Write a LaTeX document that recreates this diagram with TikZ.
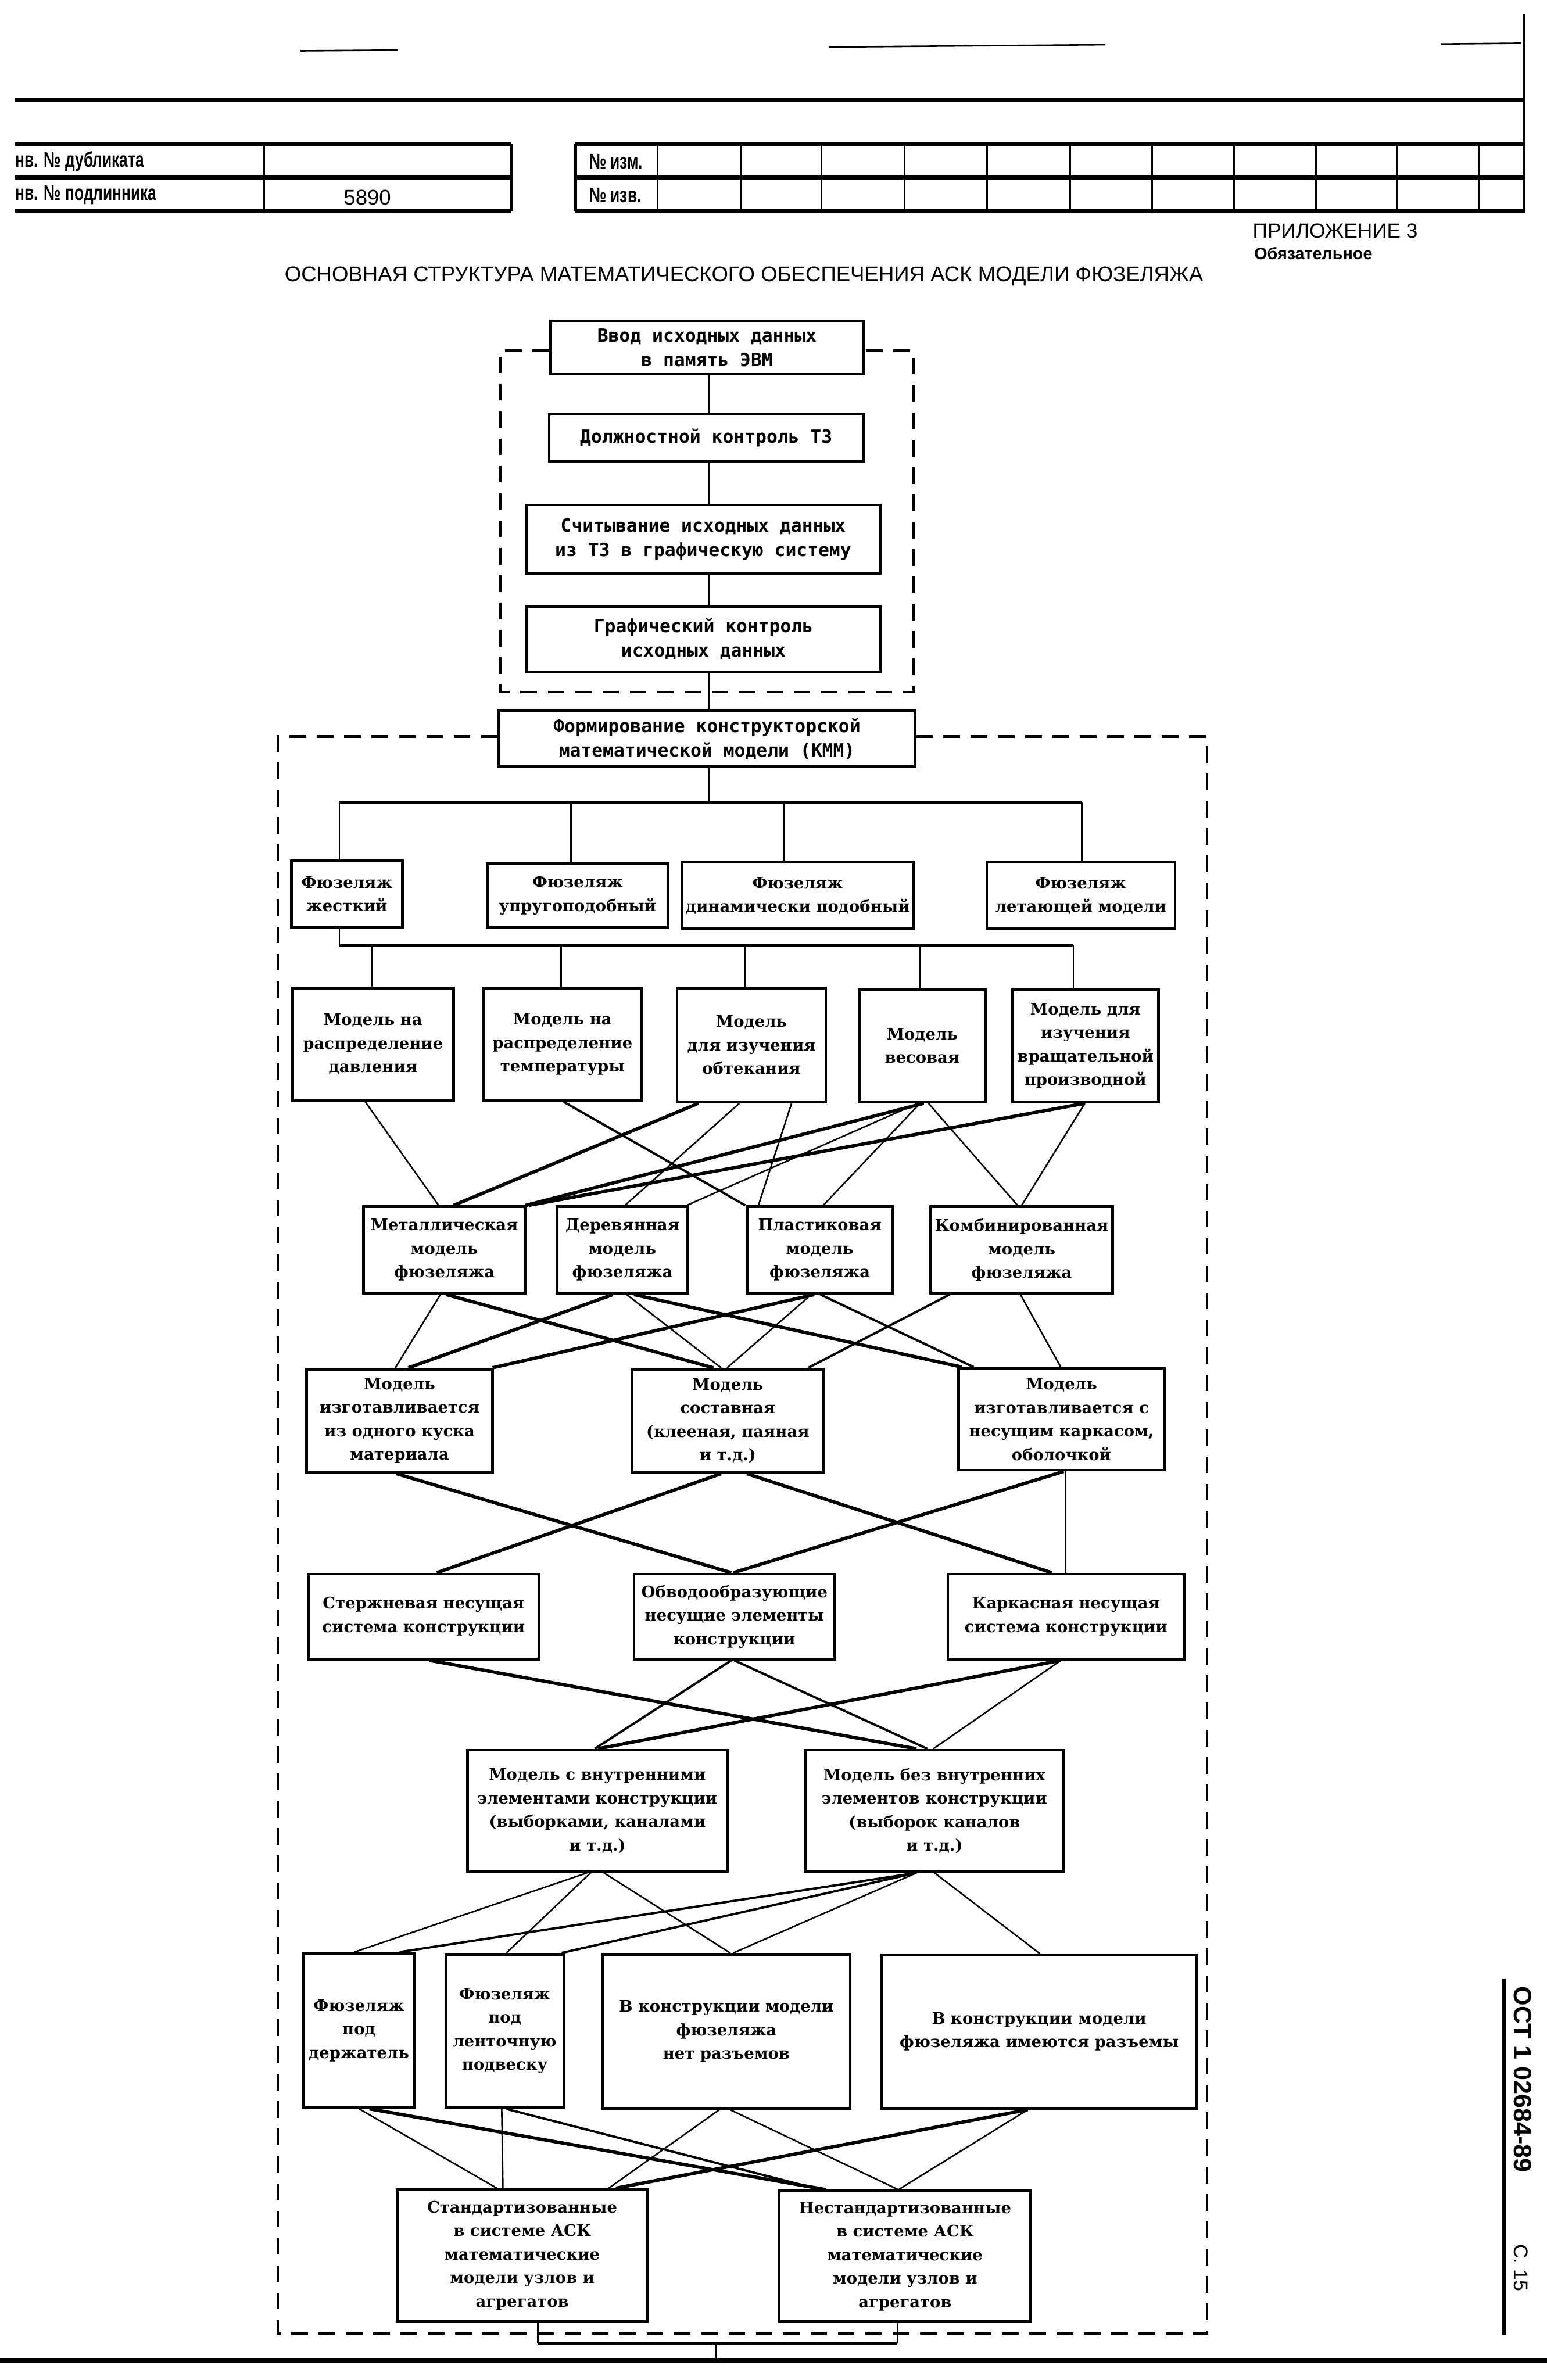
\documentclass[tikz,border=0pt]{standalone}
\usepackage{fontspec}
\setmainfont{Liberation Serif}
\newfontfamily\hdrfont[FakeStretch=0.72]{Liberation Sans}
\newfontfamily\titlefont{Liberation Sans}
\newfontfamily\upfont{DejaVu Sans Mono}
\newfontfamily\lowfont{DejaVu Serif}
\begin{document}
\begin{tikzpicture}[x=1pt,y=-1pt,
  box/.style={draw, line width=1.8pt, inner sep=0pt, align=center,
    font=\lowfont\bfseries\fontsize{10.5}{15.5}\selectfont},
  ubox/.style={box, font=\upfont\bfseries\fontsize{12}{16}\selectfont},
  thn/.style={line width=1.0pt},
  mid/.style={line width=1.5pt},
  thk/.style={line width=2.2pt},
  dsh/.style={line width=1.6pt, dash pattern=on 11pt off 7pt},
  hdr/.style={font=\hdrfont\bfseries\fontsize{14}{15}\selectfont, inner sep=0pt},
  tline/.style={line width=2.5pt},
  vline/.style={line width=1.2pt}]
\useasboundingbox (0,0) rectangle (1019,1568);

% ---------- header ----------
\draw[thn] (198,33.5) -- (262,33);
\draw[thn] (546,31) -- (728,29.5);
\draw[thn] (949,29) -- (1002,28.5);
\draw[tline] (10,66) -- (1004,66);
\draw[vline] (1004,9) -- (1004,140);
\foreach \yy in {95,117,139}{
  \draw[tline] (10,\yy) -- (337,\yy);
  \draw[tline] (379,\yy) -- (1004,\yy);
}
\draw[vline] (174,95) -- (174,139);
\draw[line width=1.6pt] (337,95) -- (337,139);
\draw[line width=2pt] (379,95) -- (379,139);
\foreach \xx in {433,488,541,596,650,705,759,813,867,920,974}{
  \draw[vline] (\xx,95) -- (\xx,139);
}
\node[hdr, anchor=west] (hd1) at (10,106.5) {нв. № дубликата};
\node[hdr, anchor=west] (hd2) at (10,128.5) {нв. № подлинника};
\node[font=\titlefont\fontsize{14}{16}\selectfont, inner sep=0pt] (hd3) at (242,130) {5890};
\node[hdr, anchor=west] (hd4) at (388,106.5) {№ изм.};
\node[hdr, anchor=west] (hd5) at (388,128.5) {№ изв.};

\node[font=\titlefont\fontsize{13.5}{16}\selectfont, inner sep=0pt, anchor=west] (app) at (825,152) {ПРИЛОЖЕНИЕ 3};
\node[font=\titlefont\bfseries\fontsize{11}{13}\selectfont, inner sep=0pt, anchor=west] (obl) at (826,167) {Обязательное};
\node[font=\titlefont\fontsize{14}{16}\selectfont, inner sep=0pt] (title) at (490,182)
  {ОСНОВНАЯ СТРУКТУРА МАТЕМАТИЧЕСКОГО ОБЕСПЕЧЕНИЯ АСК МОДЕЛИ ФЮЗЕЛЯЖА};

% ---------- upper block ----------
\node[ubox, minimum width=206pt, minimum height=35pt] (B1) at (465.7,229) {Ввод исходных данных\\в память ЭВМ};
\node[ubox, minimum width=207pt, minimum height=31pt] (B2) at (465.2,288.5) {Должностной контроль ТЗ};
\node[ubox, minimum width=233pt, minimum height=45pt] (B3) at (463.2,355.2) {Считывание исходных данных\\из ТЗ в графическую систему};
\node[ubox, minimum width=233pt, minimum height=43pt] (B4) at (463.4,421) {Графический контроль\\исходных данных};
\node[ubox, minimum width=274pt, minimum height=37pt] (B5) at (465.7,486.6) {Формирование конструкторской\\математической модели (КММ)};

\draw[dsh] (B1.west |- 0,231) -- (329.7,231) -- (329.7,455.8) -- (601.7,455.8) -- (601.7,231) -- (B1.east |- 0,231);
\draw[dsh] (B5.west |- 0,485.2) -- (183,485.2) -- (183,1537.5) -- (795,1537.5) -- (795,485.2) -- (B5.east |- 0,485.2);

\draw[thn] (466.8,0 |- B1.south) -- (466.8,0 |- B2.north);
\draw[thn] (466.8,0 |- B2.south) -- (466.8,0 |- B3.north);
\draw[thn] (466.8,0 |- B3.south) -- (466.8,0 |- B4.north);
\draw[thn] (466.8,0 |- B4.south) -- (466.8,0 |- B5.north);

% ---------- fuselage types ----------
\node[box, minimum width=73pt, minimum height=44pt] (F1) at (228.5,589) {Фюзеляж\\жесткий};
\node[box, minimum width=119pt, minimum height=42pt] (F2) at (380.5,590) {Фюзеляж\\упругоподобный};
\node[box, minimum width=153pt, minimum height=44pt] (F3) at (525.5,590) {Фюзеляж\\динамически подобный};
\node[box, minimum width=124pt, minimum height=44pt] (F4) at (712,590) {Фюзеляж\\летающей модели};

\coordinate (bus1) at (466.8,528.6);
\coordinate (bus1L) at (223.5,528.6);
\coordinate (bus1R) at (712.6,528.6);
\draw[thn] (466.8,0 |- B5.south) -- (bus1);
\draw[mid] (bus1L) -- (bus1R);
\draw[thn] (bus1L) -- (223.5,0 |- F1.north);
\draw[thn] (376,528.6) -- (376,0 |- F2.north);
\draw[thn] (516.5,528.6) -- (516.5,0 |- F3.north);
\draw[thn] (bus1R) -- (712.6,0 |- F4.north);

% ---------- model purposes ----------
\node[box, minimum width=106pt, minimum height=74pt] (M1) at (245.7,688) {Модель на\\распределение\\давления};
\node[box, minimum width=104pt, minimum height=74pt] (M2) at (370.5,688) {Модель на\\распределение\\температуры};
\node[box, minimum width=98pt, minimum height=75pt] (M3) at (495,688.5) {Модель\\для изучения\\обтекания};
\node[box, minimum width=83pt, minimum height=74pt] (M4) at (607.5,689) {Модель\\весовая};
\node[box, minimum width=96pt, minimum height=74pt] (M5) at (715,689) {Модель для\\изучения\\вращательной\\производной};

\coordinate (bus2L) at (223.5,622.7);
\coordinate (bus2R) at (707,622.7);
\draw[thn] (223.5,0 |- F1.south) -- (bus2L);
\draw[mid] (bus2L) -- (bus2R);
\draw[thn] (245,622.7) -- (245,0 |- M1.north);
\draw[thn] (369.5,622.7) -- (369.5,0 |- M2.north);
\draw[thn] (490.5,622.7) -- (490.5,0 |- M3.north);
\draw[thn] (606,622.7) -- (606,0 |- M4.north);
\draw[thn] (bus2R) -- (707,0 |- M5.north);

% ---------- materials ----------
\node[box, minimum width=106.6pt, minimum height=57pt] (Met) at (292.7,823.5) {Металлическая\\модель\\фюзеляжа};
\node[box, minimum width=86pt, minimum height=57pt] (Der) at (410,823.5) {Деревянная\\модель\\фюзеляжа};
\node[box, minimum width=96pt, minimum height=57pt] (Pla) at (540,823.5) {Пластиковая\\модель\\фюзеляжа};
\node[box, minimum width=120pt, minimum height=57pt] (Kom) at (673,823.5) {Комбинированная\\модель\\фюзеляжа};

\draw[thn] (240.6,0 |- M1.south) -- (288.9,0 |- Met.north);
\draw[mid] (371.3,0 |- M2.south) -- (490.9,0 |- Pla.north);
\draw[thk] (460,0 |- M3.south) -- (298.8,0 |- Met.north);
\draw[thn] (487,0 |- M3.south) -- (411.7,0 |- Der.north);
\draw[thn] (521.4,0 |- M3.south) -- (499.6,0 |- Pla.north);
\draw[thk] (608.5,0 |- M4.south) -- (346.3,0 |- Met.north);
\draw[thn] (604.5,0 |- M4.south) -- (452.4,0 |- Der.north);
\draw[thn] (606,0 |- M4.south) -- (542.3,0 |- Pla.north);
\draw[thn] (611.6,0 |- M4.south) -- (670.3,0 |- Kom.north);
\draw[thk] (714.6,0 |- M5.south) -- (348.3,0 |- Met.north);
\draw[thn] (714.6,0 |- M5.south) -- (673,0 |- Kom.north);

% ---------- manufacturing ----------
\node[box, minimum width=122.7pt, minimum height=68pt] (G1) at (263.2,936) {Модель\\изготавливается\\из одного куска\\материала};
\node[box, minimum width=125.7pt, minimum height=68pt] (G2) at (479.4,936) {Модель\\составная\\(клееная, паяная\\и т.д.)};
\node[box, minimum width=135.6pt, minimum height=67pt] (G3) at (699.2,935) {Модель\\изготавливается с\\несущим каркасом,\\оболочкой};

\draw[thn] (290.1,0 |- Met.south) -- (260.4,0 |- G1.north);
\draw[thk] (294,0 |- Met.south) -- (469.9,0 |- G2.north);
\draw[thk] (403.7,0 |- Der.south) -- (269,0 |- G1.north);
\draw[thn] (412.8,0 |- Der.south) -- (475,0 |- G2.north);
\draw[thk] (417.6,0 |- Der.south) -- (633.4,0 |- G3.north);
\draw[thk] (536.4,0 |- Pla.south) -- (324.5,0 |- G1.north);
\draw[thn] (534.4,0 |- Pla.south) -- (479,0 |- G2.north);
\draw[mid] (540.4,0 |- Pla.south) -- (641.3,0 |- G3.north);
\draw[mid] (625.5,0 |- Kom.south) -- (532.4,0 |- G2.north);
\draw[thn] (672.2,0 |- Kom.south) -- (698.7,0 |- G3.north);

% ---------- load-bearing systems ----------
\node[box, minimum width=152pt, minimum height=56pt] (S1) at (279,1065) {Стержневая несущая\\система конструкции};
\node[box, minimum width=132.4pt, minimum height=56pt] (S2) at (483.8,1065) {Обводообразующие\\несущие элементы\\конструкции};
\node[box, minimum width=155.7pt, minimum height=56pt] (S3) at (702.2,1065) {Каркасная несущая\\система конструкции};

\draw[thk] (261.2,0 |- G1.south) -- (481.7,0 |- S2.north);
\draw[thk] (475,0 |- G2.south) -- (287.7,0 |- S1.north);
\draw[thk] (492,0 |- G2.south) -- (692.8,0 |- S3.north);
\draw[thk] (700.7,0 |- G3.south) -- (483,0 |- S2.north);
\draw[thn] (701.9,0 |- G3.south) -- (701.9,0 |- S3.north);

% ---------- internal elements ----------
\node[box, minimum width=171pt, minimum height=80pt] (I1) at (393.5,1193) {Модель с внутренними\\элементами конструкции\\(выборками, каналами\\и т.д.)};
\node[box, minimum width=170pt, minimum height=80pt] (I2) at (615.5,1193) {Модель без внутренних\\элементов конструкции\\(выборок каналов\\и т.д.)};

\draw[thk] (283,0 |- S1.south) -- (603.7,0 |- I2.north);
\draw[mid] (481.7,0 |- S2.south) -- (391.8,0 |- I1.north);
\draw[mid] (483.7,0 |- S2.south) -- (610.8,0 |- I2.north);
\draw[thk] (698.8,0 |- S3.south) -- (393.8,0 |- I1.north);
\draw[thn] (698.8,0 |- S3.south) -- (614.8,0 |- I2.north);

% ---------- mounting / joints ----------
\node[box, minimum width=73.2pt, minimum height=101.5pt] (D1) at (236.4,1337.7) {Фюзеляж\\под\\держатель};
\node[box, minimum width=77.7pt, minimum height=101pt] (D2) at (332.5,1338) {Фюзеляж\\под\\ленточную\\подвеску};
\node[box, minimum width=163pt, minimum height=101.5pt] (D3) at (478.5,1338.3) {В конструкции модели\\фюзеляжа\\нет разъемов};
\node[box, minimum width=207pt, minimum height=101pt] (D4) at (684.5,1338.5) {В конструкции модели\\фюзеляжа имеются разъемы};

\draw[thn] (386.7,0 |- I1.south) -- (233.5,0 |- D1.north);
\draw[thn] (389,0 |- I1.south) -- (333.6,0 |- D2.north);
\draw[thn] (397.8,0 |- I1.south) -- (481,0 |- D3.north);
\draw[mid] (603.7,0 |- I2.south) -- (263.2,0 |- D1.north);
\draw[mid] (603.7,0 |- I2.south) -- (370,0 |- D2.north);
\draw[thn] (603.7,0 |- I2.south) -- (483,0 |- D3.north);
\draw[thn] (615.6,0 |- I2.south) -- (685,0 |- D4.north);

% ---------- standardized ----------
\node[box, minimum width=164.7pt, minimum height=87pt] (T1) at (344,1486) {Стандартизованные\\в системе АСК\\математические\\модели узлов и\\агрегатов};
\node[box, minimum width=165.6pt, minimum height=86pt] (T2) at (596.2,1486.5) {Нестандартизованные\\в системе АСК\\математические\\модели узлов и\\агрегатов};

\draw[thn] (236.6,0 |- D1.south) -- (327.3,0 |- T1.north);
\draw[thk] (243.4,0 |- D1.south) -- (544.3,0 |- T2.north);
\draw[thn] (330.5,0 |- D2.south) -- (331.3,0 |- T1.north);
\draw[mid] (333.6,0 |- D2.south) -- (540.4,0 |- T2.north);
\draw[thn] (473.8,0 |- D3.south) -- (401,0 |- T1.north);
\draw[thn] (481,0 |- D3.south) -- (591.8,0 |- T2.north);
\draw[thk] (677,0 |- D4.south) -- (405.7,0 |- T1.north);
\draw[thn] (677,0 |- D4.south) -- (591.8,0 |- T2.north);

\coordinate (outL) at (354.2,1544);
\coordinate (outR) at (591,1544);
\coordinate (outM) at (471.8,1544);
\coordinate (outB) at (471.8,1555);
\draw[thn] (354.2,0 |- T1.south) -- (outL);
\draw[thn] (591,0 |- T2.south) -- (outR);
\draw[mid] (outL) -- (outR);
\draw[thn] (outM) -- (outB);
\draw[line width=2.8pt] (0,1555) -- (1019,1555);

% ---------- side stamp ----------
\draw[line width=2.8pt] (991,1304) -- (991,1538);
\node[rotate=-90, font=\titlefont\bfseries\fontsize{16.5}{18}\selectfont, inner sep=0pt] (oct) at (1003,1370) {ОСТ 1 02684-89};
\node[rotate=-90, font=\titlefont\fontsize{13}{15}\selectfont, inner sep=0pt] (pg) at (1002,1494) {С. 15};
\end{tikzpicture}
\end{document}
